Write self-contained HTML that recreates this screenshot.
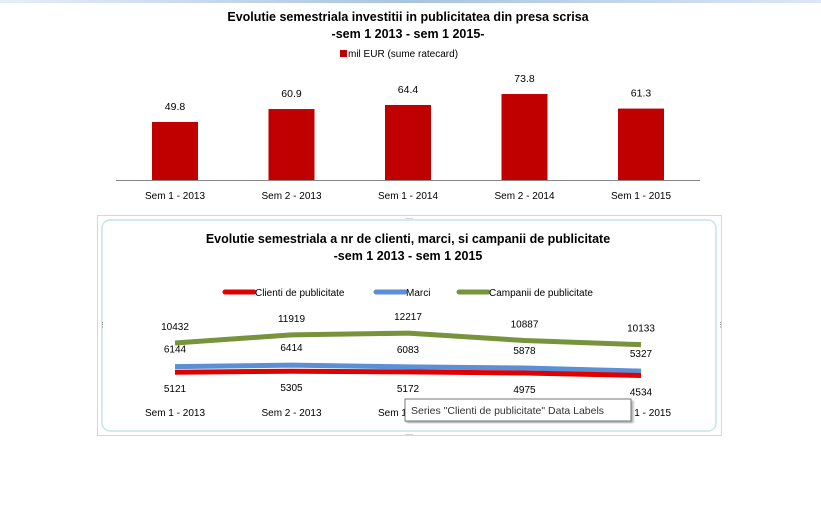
<!DOCTYPE html>
<html><head><meta charset="utf-8">
<style>
html,body{margin:0;padding:0;background:#fff;}
body{width:821px;height:523px;overflow:hidden;position:relative;font-family:"Liberation Sans",sans-serif;}
svg text{font-family:"Liberation Sans",sans-serif;}
</style></head>
<body>
<svg width="821" height="523" viewBox="0 0 821 523">
<defs>
<linearGradient id="topg" x1="0" x2="1"><stop offset="0" stop-color="#e6eef8"/><stop offset="0.5" stop-color="#a9c3e2"/><stop offset="1" stop-color="#dbe7f4"/></linearGradient>
<filter id="sh"><feDropShadow dx="2" dy="2" stdDeviation="1" flood-color="#000" flood-opacity="0.3"/></filter>
</defs>
<rect x="0" y="0" width="821" height="3" fill="url(#topg)"/>
<g id="bar-chart">
<text x="408" y="21" text-anchor="middle" font-size="12.5" font-weight="bold" fill="#000">Evolutie semestriala investitii in publicitatea din presa scrisa</text>
<text x="408" y="38" text-anchor="middle" font-size="12.5" font-weight="bold" fill="#000">-sem 1 2013  - sem 1 2015-</text>
<rect x="340" y="50" width="7" height="7" fill="#c00000"/>
<text x="348" y="57" font-size="10" fill="#000">mil EUR (sume ratecard)</text>
<line x1="116" y1="180.5" x2="700" y2="180.5" stroke="#888" stroke-width="1"/>
</g>
<g id="line-frame">
<rect x="97.5" y="215.5" width="624" height="220" fill="#fff" stroke="#bfe0e0" stroke-width="1"/>
<rect x="102" y="220" width="614" height="211" rx="8" fill="#fff" stroke="#c8e4e4" stroke-width="1.5"/>
<text x="408" y="243" text-anchor="middle" font-size="12.5" font-weight="bold" fill="#000">Evolutie semestriala a nr de clienti, marci, si campanii de publicitate</text>
<text x="408" y="260" text-anchor="middle" font-size="12.5" font-weight="bold" fill="#000">-sem 1 2013  - sem 1 2015</text>
<text x="409" y="219" text-anchor="middle" font-size="7" fill="#666">....</text>
<text x="409" y="435" text-anchor="middle" font-size="7" fill="#666">....</text>
<text x="99" y="327" font-size="7" fill="#666">⋮</text>
<text x="717" y="327" font-size="7" fill="#666">⋮</text>
</g>
<g id="line-chart"></g>
<g>
<line x1="225" y1="292" x2="254" y2="292" stroke="#e00000" stroke-width="5" stroke-linecap="round"/>
<text x="255" y="296" font-size="10">Clienti de publicitate</text>
<line x1="376" y1="292" x2="405" y2="292" stroke="#5b8fd6" stroke-width="5" stroke-linecap="round"/>
<text x="406" y="296" font-size="10">Marci</text>
<line x1="459" y1="292" x2="488" y2="292" stroke="#77933c" stroke-width="5" stroke-linecap="round"/>
<text x="489" y="296" font-size="10">Campanii de publicitate</text>
</g>
<g id="tooltip">
<rect x="405" y="399" width="226" height="22" fill="#fff" stroke="#777" filter="url(#sh)"/>
<text x="411" y="414" font-size="10.5" fill="#333">Series "Clienti de publicitate" Data Labels</text>
</g>
</svg>
<script>
const categories=["Sem 1 - 2013","Sem 2 - 2013","Sem 1 - 2014","Sem 2 - 2014","Sem 1 - 2015"];
const barValues=[49.8,60.9,64.4,73.8,61.3];
const clienti=[5121,5305,5172,4975,4534];
const marci=[6144,6414,6083,5878,5327];
const campanii=[10432,11919,12217,10887,10133];
const NS="http://www.w3.org/2000/svg";
function mk(tag,attrs,parent){const e=document.createElementNS(NS,tag);for(const k in attrs)e.setAttribute(k,attrs[k]);parent.appendChild(e);return e;}
const xPos=i=>175+i*116.5;
const barY=v=>180-v*1.165;
const bc=document.getElementById('bar-chart');
barValues.forEach((v,i)=>{
 const r=mk('rect',{x:xPos(i)-23,y:barY(v),width:46,height:180-barY(v),fill:'#c00000'},bc);
 
 
 const t=mk('text',{x:xPos(i),y:barY(v)-12,'text-anchor':'middle','font-size':'10.5'},bc);t.textContent=v.toFixed(1);
 
 
 const c=mk('text',{x:xPos(i),y:199,'text-anchor':'middle','font-size':'10'},bc);c.textContent=categories[i];
 
 
});
const lineY=v=>343-(v-10432)*0.0055;
const lc=document.getElementById('line-chart');
function series(vals,color,name,labelOff){
 const p=mk('polyline',{points:vals.map((v,i)=>xPos(i)+','+lineY(v)).join(' '),fill:'none',stroke:color,'stroke-width':5,'stroke-linejoin':'round'},lc);
 
 
 vals.forEach((v,i)=>{
  const t=mk('text',{x:xPos(i),y:lineY(v)+labelOff,'text-anchor':'middle','font-size':'10'},lc);t.textContent=v;
  
  
 });
}
series(marci,'#5b8fd6','marci',-14);
series(clienti,'#e00000','clienti',20);
series(campanii,'#77933c','campanii',-13);
categories.forEach((c,i)=>{
 const t=mk('text',{x:xPos(i),y:416,'text-anchor':'middle','font-size':'10'},lc);t.textContent=c;
 
 
});
document.getElementById('line-chart').parentNode.appendChild(document.getElementById('tooltip'));
</script>
</body></html>
